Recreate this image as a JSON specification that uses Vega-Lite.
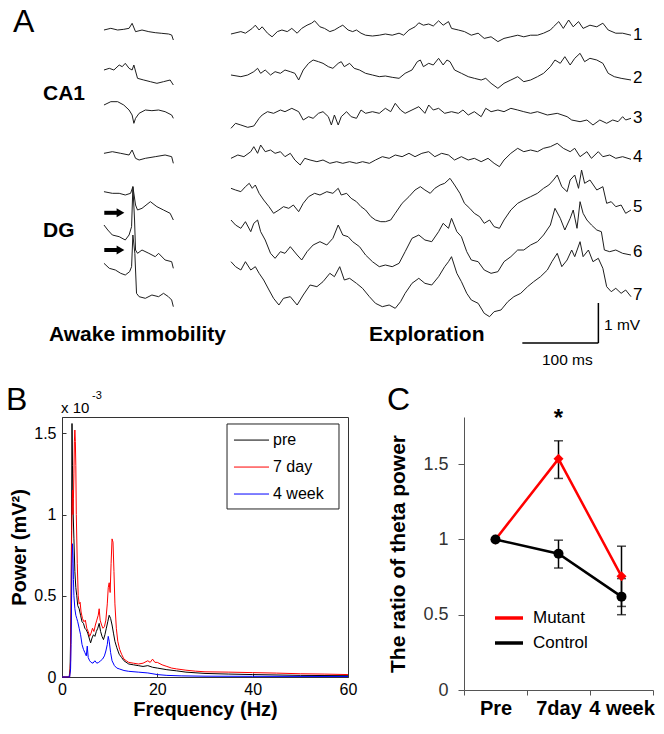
{
"$schema": "https://vega.github.io/schema/vega-lite/v6.json",
"padding": {"left": 5, "top": 0, "right": 0, "bottom": 0},
"config": {"font": "Liberation Sans", "view": {"stroke": null}},
"datasets": {
"traces": [
{"id":"e1","t":0,"v":0.85},{"id":"e1","t":13,"v":0.79},{"id":"e1","t":19,"v":0.83},{"id":"e1","t":28,"v":0.71},{"id":"e1","t":32,"v":0.63},{"id":"e1","t":37,"v":0.75},{"id":"e1","t":41,"v":0.67},{"id":"e1","t":48,"v":0.83},{"id":"e1","t":54,"v":0.92},{"id":"e1","t":61,"v":0.79},{"id":"e1","t":67,"v":0.75},{"id":"e1","t":74,"v":0.79},{"id":"e1","t":80,"v":0.71},{"id":"e1","t":87,"v":0.83},{"id":"e1","t":93,"v":0.71},{"id":"e1","t":100,"v":0.63},{"id":"e1","t":106,"v":0.58},{"id":"e1","t":110,"v":0.52},{"id":"e1","t":117,"v":0.67},{"id":"e1","t":123,"v":0.71},{"id":"e1","t":130,"v":0.79},{"id":"e1","t":136,"v":0.75},{"id":"e1","t":143,"v":0.67},{"id":"e1","t":147,"v":0.63},{"id":"e1","t":154,"v":0.75},{"id":"e1","t":160,"v":0.79},{"id":"e1","t":165,"v":0.75},{"id":"e1","t":171,"v":0.83},{"id":"e1","t":177,"v":0.88},{"id":"e1","t":186,"v":0.9},{"id":"e1","t":195,"v":0.88},{"id":"e1","t":203,"v":0.85},{"id":"e1","t":212,"v":0.88},{"id":"e1","t":221,"v":0.83},{"id":"e1","t":227,"v":0.88},{"id":"e1","t":234,"v":0.75},{"id":"e1","t":242,"v":0.67},{"id":"e1","t":247,"v":0.57},{"id":"e1","t":253,"v":0.63},{"id":"e1","t":260,"v":0.6},{"id":"e1","t":266,"v":0.65},{"id":"e1","t":273,"v":0.52},{"id":"e1","t":279,"v":0.63},{"id":"e1","t":286,"v":0.54},{"id":"e1","t":290,"v":0.71},{"id":"e1","t":299,"v":0.75},{"id":"e1","t":307,"v":0.79},{"id":"e1","t":316,"v":0.88},{"id":"e1","t":325,"v":0.83},{"id":"e1","t":333,"v":0.96},{"id":"e1","t":342,"v":0.92},{"id":"e1","t":351,"v":1.04},{"id":"e1","t":359,"v":0.96},{"id":"e1","t":368,"v":0.92},{"id":"e1","t":377,"v":0.88},{"id":"e1","t":385,"v":0.92},{"id":"e1","t":394,"v":0.88},{"id":"e1","t":403,"v":0.88},{"id":"e1","t":411,"v":0.83},{"id":"e1","t":420,"v":0.75},{"id":"e1","t":424,"v":0.67},{"id":"e1","t":431,"v":0.54},{"id":"e1","t":437,"v":0.71},{"id":"e1","t":444,"v":0.5},{"id":"e1","t":450,"v":0.67},{"id":"e1","t":457,"v":0.54},{"id":"e1","t":463,"v":0.71},{"id":"e1","t":472,"v":0.63},{"id":"e1","t":481,"v":0.67},{"id":"e1","t":489,"v":0.58},{"id":"e1","t":496,"v":0.75},{"id":"e1","t":506,"v":0.83},{"id":"e1","t":515,"v":0.83},{"id":"e1","t":526,"v":0.88},
{"id":"e2","t":0,"v":1.875},{"id":"e2","t":13,"v":1.917},{"id":"e2","t":22,"v":1.875},{"id":"e2","t":30,"v":1.792},{"id":"e2","t":35,"v":1.708},{"id":"e2","t":39,"v":1.833},{"id":"e2","t":45,"v":1.75},{"id":"e2","t":52,"v":1.875},{"id":"e2","t":58,"v":1.792},{"id":"e2","t":65,"v":1.833},{"id":"e2","t":71,"v":1.75},{"id":"e2","t":78,"v":1.792},{"id":"e2","t":84,"v":1.833},{"id":"e2","t":89,"v":2.0},{"id":"e2","t":95,"v":1.75},{"id":"e2","t":102,"v":1.583},{"id":"e2","t":108,"v":1.5},{"id":"e2","t":115,"v":1.542},{"id":"e2","t":121,"v":1.583},{"id":"e2","t":128,"v":1.667},{"id":"e2","t":134,"v":1.708},{"id":"e2","t":141,"v":1.583},{"id":"e2","t":145,"v":1.542},{"id":"e2","t":149,"v":1.667},{"id":"e2","t":156,"v":1.583},{"id":"e2","t":162,"v":1.708},{"id":"e2","t":169,"v":1.75},{"id":"e2","t":177,"v":1.833},{"id":"e2","t":186,"v":1.875},{"id":"e2","t":195,"v":1.917},{"id":"e2","t":203,"v":1.9},{"id":"e2","t":212,"v":1.933},{"id":"e2","t":221,"v":1.958},{"id":"e2","t":229,"v":1.833},{"id":"e2","t":238,"v":1.75},{"id":"e2","t":245,"v":1.542},{"id":"e2","t":249,"v":1.5},{"id":"e2","t":253,"v":1.667},{"id":"e2","t":260,"v":1.583},{"id":"e2","t":266,"v":1.625},{"id":"e2","t":273,"v":1.458},{"id":"e2","t":279,"v":1.625},{"id":"e2","t":284,"v":1.5},{"id":"e2","t":288,"v":1.542},{"id":"e2","t":294,"v":1.75},{"id":"e2","t":303,"v":1.833},{"id":"e2","t":312,"v":1.917},{"id":"e2","t":320,"v":1.958},{"id":"e2","t":329,"v":2.0},{"id":"e2","t":335,"v":1.958},{"id":"e2","t":342,"v":2.083},{"id":"e2","t":351,"v":2.208},{"id":"e2","t":359,"v":2.083},{"id":"e2","t":368,"v":2.0},{"id":"e2","t":377,"v":1.917},{"id":"e2","t":385,"v":2.042},{"id":"e2","t":394,"v":2.0},{"id":"e2","t":403,"v":1.917},{"id":"e2","t":411,"v":1.833},{"id":"e2","t":420,"v":1.667},{"id":"e2","t":426,"v":1.5},{"id":"e2","t":433,"v":1.583},{"id":"e2","t":439,"v":1.417},{"id":"e2","t":446,"v":1.625},{"id":"e2","t":452,"v":1.458},{"id":"e2","t":459,"v":1.333},{"id":"e2","t":465,"v":1.542},{"id":"e2","t":472,"v":1.458},{"id":"e2","t":481,"v":1.5},{"id":"e2","t":489,"v":1.583},{"id":"e2","t":496,"v":1.833},{"id":"e2","t":504,"v":1.917},{"id":"e2","t":513,"v":1.958},{"id":"e2","t":526,"v":2.0},
{"id":"e3","t":0,"v":3.208},{"id":"e3","t":6,"v":3.083},{"id":"e3","t":13,"v":3.125},{"id":"e3","t":22,"v":3.183},{"id":"e3","t":30,"v":3.15},{"id":"e3","t":37,"v":2.958},{"id":"e3","t":41,"v":2.875},{"id":"e3","t":48,"v":2.792},{"id":"e3","t":56,"v":2.833},{"id":"e3","t":65,"v":2.75},{"id":"e3","t":71,"v":2.792},{"id":"e3","t":80,"v":2.708},{"id":"e3","t":89,"v":2.792},{"id":"e3","t":95,"v":3.0},{"id":"e3","t":102,"v":2.917},{"id":"e3","t":108,"v":2.958},{"id":"e3","t":115,"v":2.833},{"id":"e3","t":121,"v":2.792},{"id":"e3","t":128,"v":2.917},{"id":"e3","t":132,"v":3.125},{"id":"e3","t":136,"v":2.875},{"id":"e3","t":141,"v":3.125},{"id":"e3","t":145,"v":2.917},{"id":"e3","t":152,"v":2.792},{"id":"e3","t":158,"v":2.917},{"id":"e3","t":165,"v":2.958},{"id":"e3","t":171,"v":2.75},{"id":"e3","t":177,"v":2.833},{"id":"e3","t":186,"v":2.792},{"id":"e3","t":195,"v":2.833},{"id":"e3","t":203,"v":2.708},{"id":"e3","t":210,"v":2.792},{"id":"e3","t":216,"v":2.583},{"id":"e3","t":223,"v":2.75},{"id":"e3","t":229,"v":2.833},{"id":"e3","t":238,"v":2.75},{"id":"e3","t":247,"v":2.667},{"id":"e3","t":255,"v":2.833},{"id":"e3","t":260,"v":2.625},{"id":"e3","t":266,"v":2.75},{"id":"e3","t":273,"v":2.708},{"id":"e3","t":281,"v":2.833},{"id":"e3","t":290,"v":2.792},{"id":"e3","t":299,"v":2.833},{"id":"e3","t":305,"v":2.75},{"id":"e3","t":312,"v":2.875},{"id":"e3","t":320,"v":2.792},{"id":"e3","t":329,"v":2.917},{"id":"e3","t":335,"v":2.708},{"id":"e3","t":342,"v":2.792},{"id":"e3","t":351,"v":2.75},{"id":"e3","t":359,"v":2.792},{"id":"e3","t":368,"v":2.708},{"id":"e3","t":377,"v":2.75},{"id":"e3","t":385,"v":2.792},{"id":"e3","t":394,"v":2.833},{"id":"e3","t":403,"v":2.792},{"id":"e3","t":416,"v":2.875},{"id":"e3","t":429,"v":2.833},{"id":"e3","t":442,"v":2.917},{"id":"e3","t":448,"v":3.0},{"id":"e3","t":459,"v":3.042},{"id":"e3","t":468,"v":3.0},{"id":"e3","t":476,"v":3.125},{"id":"e3","t":485,"v":3.0},{"id":"e3","t":494,"v":3.083},{"id":"e3","t":502,"v":3.0},{"id":"e3","t":509,"v":3.042},{"id":"e3","t":515,"v":2.917},{"id":"e3","t":519,"v":3.0},{"id":"e3","t":526,"v":2.958},
{"id":"e4","t":0,"v":3.958},{"id":"e4","t":9,"v":3.875},{"id":"e4","t":17,"v":3.917},{"id":"e4","t":26,"v":3.792},{"id":"e4","t":30,"v":3.667},{"id":"e4","t":35,"v":3.833},{"id":"e4","t":39,"v":3.625},{"id":"e4","t":45,"v":3.792},{"id":"e4","t":52,"v":3.75},{"id":"e4","t":58,"v":3.833},{"id":"e4","t":65,"v":3.792},{"id":"e4","t":71,"v":3.917},{"id":"e4","t":78,"v":3.833},{"id":"e4","t":84,"v":4.0},{"id":"e4","t":91,"v":4.125},{"id":"e4","t":97,"v":3.958},{"id":"e4","t":104,"v":4.0},{"id":"e4","t":113,"v":4.042},{"id":"e4","t":121,"v":4.0},{"id":"e4","t":130,"v":4.083},{"id":"e4","t":139,"v":4.042},{"id":"e4","t":147,"v":4.083},{"id":"e4","t":156,"v":4.042},{"id":"e4","t":165,"v":4.083},{"id":"e4","t":173,"v":4.042},{"id":"e4","t":182,"v":4.083},{"id":"e4","t":190,"v":4.0},{"id":"e4","t":199,"v":3.917},{"id":"e4","t":208,"v":3.958},{"id":"e4","t":216,"v":3.875},{"id":"e4","t":225,"v":3.917},{"id":"e4","t":234,"v":3.833},{"id":"e4","t":242,"v":3.917},{"id":"e4","t":251,"v":3.833},{"id":"e4","t":260,"v":3.792},{"id":"e4","t":268,"v":3.917},{"id":"e4","t":277,"v":3.833},{"id":"e4","t":286,"v":3.875},{"id":"e4","t":294,"v":4.0},{"id":"e4","t":303,"v":3.917},{"id":"e4","t":312,"v":4.0},{"id":"e4","t":320,"v":3.958},{"id":"e4","t":329,"v":4.042},{"id":"e4","t":338,"v":3.958},{"id":"e4","t":346,"v":4.083},{"id":"e4","t":353,"v":4.167},{"id":"e4","t":359,"v":4.0},{"id":"e4","t":368,"v":3.833},{"id":"e4","t":377,"v":3.708},{"id":"e4","t":385,"v":3.792},{"id":"e4","t":394,"v":3.75},{"id":"e4","t":403,"v":3.792},{"id":"e4","t":411,"v":3.708},{"id":"e4","t":420,"v":3.667},{"id":"e4","t":429,"v":3.583},{"id":"e4","t":437,"v":3.708},{"id":"e4","t":446,"v":3.792},{"id":"e4","t":452,"v":3.708},{"id":"e4","t":459,"v":3.917},{"id":"e4","t":468,"v":3.792},{"id":"e4","t":474,"v":3.958},{"id":"e4","t":483,"v":3.792},{"id":"e4","t":489,"v":3.917},{"id":"e4","t":498,"v":3.875},{"id":"e4","t":506,"v":3.958},{"id":"e4","t":515,"v":3.917},{"id":"e4","t":526,"v":3.983},
{"id":"e5","t":0,"v":4.708},{"id":"e5","t":6,"v":4.75},{"id":"e5","t":13,"v":4.792},{"id":"e5","t":19,"v":4.667},{"id":"e5","t":24,"v":4.583},{"id":"e5","t":28,"v":4.708},{"id":"e5","t":32,"v":4.625},{"id":"e5","t":37,"v":4.833},{"id":"e5","t":43,"v":5.0},{"id":"e5","t":50,"v":5.167},{"id":"e5","t":56,"v":5.333},{"id":"e5","t":63,"v":5.25},{"id":"e5","t":69,"v":5.167},{"id":"e5","t":76,"v":5.208},{"id":"e5","t":82,"v":5.125},{"id":"e5","t":89,"v":5.292},{"id":"e5","t":95,"v":5.083},{"id":"e5","t":102,"v":4.917},{"id":"e5","t":110,"v":4.833},{"id":"e5","t":117,"v":4.875},{"id":"e5","t":126,"v":4.792},{"id":"e5","t":134,"v":4.833},{"id":"e5","t":141,"v":4.708},{"id":"e5","t":145,"v":4.875},{"id":"e5","t":152,"v":4.833},{"id":"e5","t":158,"v":4.958},{"id":"e5","t":165,"v":5.042},{"id":"e5","t":171,"v":5.167},{"id":"e5","t":177,"v":5.25},{"id":"e5","t":184,"v":5.417},{"id":"e5","t":190,"v":5.5},{"id":"e5","t":197,"v":5.542},{"id":"e5","t":203,"v":5.542},{"id":"e5","t":210,"v":5.5},{"id":"e5","t":216,"v":5.333},{"id":"e5","t":225,"v":5.083},{"id":"e5","t":234,"v":4.917},{"id":"e5","t":242,"v":4.75},{"id":"e5","t":249,"v":4.667},{"id":"e5","t":255,"v":4.75},{"id":"e5","t":262,"v":4.833},{"id":"e5","t":268,"v":4.708},{"id":"e5","t":275,"v":4.625},{"id":"e5","t":281,"v":4.583},{"id":"e5","t":288,"v":4.458},{"id":"e5","t":294,"v":4.625},{"id":"e5","t":301,"v":4.833},{"id":"e5","t":307,"v":5.083},{"id":"e5","t":314,"v":5.208},{"id":"e5","t":320,"v":5.333},{"id":"e5","t":327,"v":5.417},{"id":"e5","t":333,"v":5.583},{"id":"e5","t":340,"v":5.5},{"id":"e5","t":346,"v":5.667},{"id":"e5","t":353,"v":5.708},{"id":"e5","t":359,"v":5.5},{"id":"e5","t":368,"v":5.25},{"id":"e5","t":377,"v":5.083},{"id":"e5","t":385,"v":5.0},{"id":"e5","t":394,"v":4.917},{"id":"e5","t":403,"v":4.833},{"id":"e5","t":411,"v":4.708},{"id":"e5","t":418,"v":4.625},{"id":"e5","t":424,"v":4.5},{"id":"e5","t":429,"v":4.375},{"id":"e5","t":435,"v":4.667},{"id":"e5","t":442,"v":4.792},{"id":"e5","t":446,"v":4.5},{"id":"e5","t":452,"v":4.375},{"id":"e5","t":457,"v":4.708},{"id":"e5","t":461,"v":4.25},{"id":"e5","t":465,"v":4.583},{"id":"e5","t":472,"v":4.5},{"id":"e5","t":481,"v":4.75},{"id":"e5","t":489,"v":4.667},{"id":"e5","t":494,"v":5.083},{"id":"e5","t":500,"v":5.042},{"id":"e5","t":506,"v":5.167},{"id":"e5","t":513,"v":5.125},{"id":"e5","t":519,"v":5.333},{"id":"e5","t":526,"v":5.25},
{"id":"e6","t":0,"v":5.5},{"id":"e6","t":6,"v":5.625},{"id":"e6","t":13,"v":5.708},{"id":"e6","t":19,"v":5.542},{"id":"e6","t":26,"v":5.792},{"id":"e6","t":30,"v":5.583},{"id":"e6","t":35,"v":5.5},{"id":"e6","t":39,"v":5.792},{"id":"e6","t":45,"v":6.0},{"id":"e6","t":52,"v":6.333},{"id":"e6","t":58,"v":6.458},{"id":"e6","t":65,"v":6.292},{"id":"e6","t":71,"v":6.333},{"id":"e6","t":78,"v":6.167},{"id":"e6","t":87,"v":6.375},{"id":"e6","t":93,"v":6.5},{"id":"e6","t":100,"v":6.292},{"id":"e6","t":108,"v":6.125},{"id":"e6","t":117,"v":6.042},{"id":"e6","t":126,"v":6.125},{"id":"e6","t":134,"v":5.958},{"id":"e6","t":141,"v":5.625},{"id":"e6","t":147,"v":5.875},{"id":"e6","t":154,"v":5.917},{"id":"e6","t":160,"v":6.042},{"id":"e6","t":169,"v":6.167},{"id":"e6","t":177,"v":6.375},{"id":"e6","t":186,"v":6.542},{"id":"e6","t":195,"v":6.667},{"id":"e6","t":203,"v":6.625},{"id":"e6","t":212,"v":6.667},{"id":"e6","t":221,"v":6.583},{"id":"e6","t":229,"v":6.292},{"id":"e6","t":238,"v":5.958},{"id":"e6","t":247,"v":5.875},{"id":"e6","t":255,"v":6.0},{"id":"e6","t":264,"v":6.042},{"id":"e6","t":273,"v":5.792},{"id":"e6","t":279,"v":5.583},{"id":"e6","t":286,"v":5.708},{"id":"e6","t":290,"v":5.458},{"id":"e6","t":297,"v":5.792},{"id":"e6","t":303,"v":5.917},{"id":"e6","t":310,"v":6.292},{"id":"e6","t":316,"v":6.5},{"id":"e6","t":325,"v":6.542},{"id":"e6","t":333,"v":6.75},{"id":"e6","t":342,"v":6.833},{"id":"e6","t":351,"v":6.792},{"id":"e6","t":359,"v":6.542},{"id":"e6","t":368,"v":6.417},{"id":"e6","t":377,"v":6.25},{"id":"e6","t":385,"v":6.25},{"id":"e6","t":394,"v":6.125},{"id":"e6","t":403,"v":6.042},{"id":"e6","t":411,"v":5.875},{"id":"e6","t":420,"v":5.625},{"id":"e6","t":426,"v":5.208},{"id":"e6","t":433,"v":5.458},{"id":"e6","t":439,"v":5.75},{"id":"e6","t":446,"v":5.458},{"id":"e6","t":450,"v":5.25},{"id":"e6","t":455,"v":5.708},{"id":"e6","t":459,"v":5.042},{"id":"e6","t":463,"v":5.333},{"id":"e6","t":468,"v":5.5},{"id":"e6","t":474,"v":5.625},{"id":"e6","t":481,"v":5.75},{"id":"e6","t":487,"v":5.792},{"id":"e6","t":491,"v":6.25},{"id":"e6","t":498,"v":6.292},{"id":"e6","t":506,"v":6.25},{"id":"e6","t":515,"v":6.333},{"id":"e6","t":526,"v":6.375},
{"id":"e7","t":0,"v":6.542},{"id":"e7","t":6,"v":6.667},{"id":"e7","t":13,"v":6.75},{"id":"e7","t":19,"v":6.542},{"id":"e7","t":26,"v":6.75},{"id":"e7","t":32,"v":6.667},{"id":"e7","t":37,"v":6.833},{"id":"e7","t":43,"v":7.0},{"id":"e7","t":50,"v":7.25},{"id":"e7","t":56,"v":7.458},{"id":"e7","t":63,"v":7.625},{"id":"e7","t":69,"v":7.458},{"id":"e7","t":78,"v":7.417},{"id":"e7","t":87,"v":7.625},{"id":"e7","t":95,"v":7.375},{"id":"e7","t":104,"v":7.125},{"id":"e7","t":113,"v":7.167},{"id":"e7","t":121,"v":7.042},{"id":"e7","t":130,"v":6.833},{"id":"e7","t":136,"v":6.917},{"id":"e7","t":143,"v":6.667},{"id":"e7","t":149,"v":7.0},{"id":"e7","t":156,"v":6.958},{"id":"e7","t":165,"v":7.083},{"id":"e7","t":173,"v":7.208},{"id":"e7","t":182,"v":7.417},{"id":"e7","t":190,"v":7.583},{"id":"e7","t":199,"v":7.667},{"id":"e7","t":208,"v":7.625},{"id":"e7","t":216,"v":7.708},{"id":"e7","t":223,"v":7.542},{"id":"e7","t":229,"v":7.333},{"id":"e7","t":238,"v":7.083},{"id":"e7","t":247,"v":6.958},{"id":"e7","t":255,"v":7.083},{"id":"e7","t":264,"v":7.125},{"id":"e7","t":273,"v":6.917},{"id":"e7","t":281,"v":6.667},{"id":"e7","t":286,"v":6.542},{"id":"e7","t":290,"v":6.417},{"id":"e7","t":297,"v":6.833},{"id":"e7","t":303,"v":7.042},{"id":"e7","t":310,"v":7.333},{"id":"e7","t":316,"v":7.5},{"id":"e7","t":325,"v":7.583},{"id":"e7","t":333,"v":7.833},{"id":"e7","t":340,"v":7.917},{"id":"e7","t":346,"v":7.792},{"id":"e7","t":355,"v":7.75},{"id":"e7","t":364,"v":7.542},{"id":"e7","t":372,"v":7.417},{"id":"e7","t":381,"v":7.333},{"id":"e7","t":390,"v":7.167},{"id":"e7","t":398,"v":7.042},{"id":"e7","t":407,"v":6.917},{"id":"e7","t":416,"v":6.75},{"id":"e7","t":422,"v":6.542},{"id":"e7","t":429,"v":6.333},{"id":"e7","t":435,"v":6.667},{"id":"e7","t":442,"v":6.5},{"id":"e7","t":448,"v":6.25},{"id":"e7","t":452,"v":6.417},{"id":"e7","t":459,"v":6.042},{"id":"e7","t":463,"v":6.417},{"id":"e7","t":470,"v":6.25},{"id":"e7","t":476,"v":6.542},{"id":"e7","t":483,"v":6.458},{"id":"e7","t":489,"v":6.708},{"id":"e7","t":494,"v":7.167},{"id":"e7","t":500,"v":7.292},{"id":"e7","t":506,"v":7.208},{"id":"e7","t":513,"v":7.333},{"id":"e7","t":519,"v":7.25},{"id":"e7","t":526,"v":7.417},
{"id":"a1","t":-167,"v":0.75},{"id":"a1","t":-158,"v":0.708},{"id":"a1","t":-149,"v":0.75},{"id":"a1","t":-141,"v":0.733},{"id":"a1","t":-134,"v":0.708},{"id":"a1","t":-130,"v":0.583},{"id":"a1","t":-125.5,"v":0.792},{"id":"a1","t":-117,"v":0.75},{"id":"a1","t":-108,"v":0.792},{"id":"a1","t":-99.6,"v":0.817},{"id":"a1","t":-91,"v":0.833},{"id":"a1","t":-82,"v":0.85},{"id":"a1","t":-78,"v":0.875},{"id":"a1","t":-75.8,"v":1.0},
{"id":"a2","t":-167,"v":1.75},{"id":"a2","t":-160,"v":1.708},{"id":"a2","t":-154,"v":1.75},{"id":"a2","t":-147,"v":1.625},{"id":"a2","t":-143,"v":1.667},{"id":"a2","t":-139,"v":1.583},{"id":"a2","t":-134,"v":1.708},{"id":"a2","t":-130,"v":1.75},{"id":"a2","t":-127.7,"v":1.625},{"id":"a2","t":-122.9,"v":1.958},{"id":"a2","t":-114.7,"v":2.0},{"id":"a2","t":-106,"v":2.042},{"id":"a2","t":-97.4,"v":2.083},{"id":"a2","t":-88.7,"v":2.042},{"id":"a2","t":-80,"v":2.0},{"id":"a2","t":-75.8,"v":2.125},
{"id":"a3","t":-167,"v":2.625},{"id":"a3","t":-158,"v":2.542},{"id":"a3","t":-149,"v":2.542},{"id":"a3","t":-141,"v":2.625},{"id":"a3","t":-134,"v":2.75},{"id":"a3","t":-130,"v":2.875},{"id":"a3","t":-127.7,"v":3.083},{"id":"a3","t":-125.5,"v":2.958},{"id":"a3","t":-120.8,"v":2.833},{"id":"a3","t":-112.6,"v":2.75},{"id":"a3","t":-104,"v":2.767},{"id":"a3","t":-95.2,"v":2.75},{"id":"a3","t":-86.6,"v":2.792},{"id":"a3","t":-78,"v":2.875},{"id":"a3","t":-75.8,"v":2.958},
{"id":"a4","t":-167,"v":3.833},{"id":"a4","t":-156,"v":3.792},{"id":"a4","t":-145,"v":3.833},{"id":"a4","t":-134,"v":3.875},{"id":"a4","t":-130,"v":3.75},{"id":"a4","t":-125.5,"v":3.958},{"id":"a4","t":-120.8,"v":4.0},{"id":"a4","t":-112.6,"v":3.958},{"id":"a4","t":-99.6,"v":3.917},{"id":"a4","t":-86.6,"v":3.875},{"id":"a4","t":-78,"v":3.917},{"id":"a4","t":-75.8,"v":4.083},
{"id":"a5","t":-167,"v":4.792},{"id":"a5","t":-156,"v":4.833},{"id":"a5","t":-147,"v":4.833},{"id":"a5","t":-139,"v":4.875},{"id":"a5","t":-132,"v":4.833},{"id":"a5","t":-129,"v":4.667},{"id":"a5","t":-125.5,"v":5.125},{"id":"a5","t":-122.9,"v":5.25},{"id":"a5","t":-117,"v":5.208},{"id":"a5","t":-106,"v":5.042},{"id":"a5","t":-97.4,"v":5.167},{"id":"a5","t":-88.7,"v":5.25},{"id":"a5","t":-80,"v":5.333},{"id":"a5","t":-75.8,"v":5.5},
{"id":"a6","t":-167,"v":5.625},{"id":"a6","t":-162,"v":5.75},{"id":"a6","t":-156,"v":5.875},{"id":"a6","t":-147,"v":5.917},{"id":"a6","t":-139,"v":6.0},{"id":"a6","t":-134,"v":5.875},{"id":"a6","t":-130.7,"v":5.667},{"id":"a6","t":-129,"v":4.667},{"id":"a6","t":-126.8,"v":5.5},{"id":"a6","t":-125.5,"v":6.25},{"id":"a6","t":-122.9,"v":6.333},{"id":"a6","t":-117,"v":6.25},{"id":"a6","t":-108,"v":6.333},{"id":"a6","t":-99.6,"v":6.417},{"id":"a6","t":-95.2,"v":6.333},{"id":"a6","t":-86.6,"v":6.5},{"id":"a6","t":-78,"v":6.542},{"id":"a6","t":-75.8,"v":6.708},
{"id":"a7","t":-167,"v":6.583},{"id":"a7","t":-160,"v":6.708},{"id":"a7","t":-152,"v":6.75},{"id":"a7","t":-145,"v":6.833},{"id":"a7","t":-139,"v":6.875},{"id":"a7","t":-133.3,"v":6.792},{"id":"a7","t":-130.7,"v":6.667},{"id":"a7","t":-129,"v":5.875},{"id":"a7","t":-126.4,"v":6.333},{"id":"a7","t":-124.2,"v":7.333},{"id":"a7","t":-120.8,"v":7.417},{"id":"a7","t":-112.6,"v":7.458},{"id":"a7","t":-104,"v":7.375},{"id":"a7","t":-95.2,"v":7.417},{"id":"a7","t":-88.7,"v":7.333},{"id":"a7","t":-82.3,"v":7.417},{"id":"a7","t":-78,"v":7.5},{"id":"a7","t":-75.8,"v":7.667}
],
"bars": [{"t":483.1,"t2":483.1,"v":7.575,"v2":8.575},{"t":383.1,"t2":483.1,"v":8.575,"v2":8.575}],
"arrows": [{"t":-166.6,"t2":-148.6,"v":5.32},{"t":-166.6,"t2":-148.6,"v":6.25}],
"heads": [{"t":-145.3,"v":5.32},{"t":-145.3,"v":6.25}],
"letters": [{"lab":"A","t":-286.7,"v":0.8},{"lab":"B","t":-295.9,"v":10.25},{"lab":"C","t":205.1,"v":10.25}],
"regions": [{"lab":"CA1","t":-247.2,"v":2.5},{"lab":"DG","t":-247.2,"v":5.93},{"lab":"Awake immobility","t":-239.3,"v":8.53},{"lab":"Exploration","t":181.5,"v":8.53}],
"nums": [{"lab":"1","t":535,"v":0.875},{"lab":"2","t":535,"v":1.95},{"lab":"3","t":535,"v":2.95},{"lab":"4","t":535,"v":3.925},{"lab":"5","t":535,"v":5.175},{"lab":"6","t":535,"v":6.3},{"lab":"7","t":535,"v":7.375}],
"scalelabs": [{"lab":"1 mV","t":490.5,"v":8.13},{"lab":"100 ms","t":408.9,"v":9.0}],
"spec": [
{"s":"pre","f":0,"p":0},{"s":"pre","f":1.5,"p":0},{"s":"pre","f":1.7,"p":0.05},{"s":"pre","f":1.9,"p":0.4},{"s":"pre","f":2.0,"p":0.9},{"s":"pre","f":2.1,"p":1.56},{"s":"pre","f":2.2,"p":1.3},{"s":"pre","f":2.3,"p":1.05},{"s":"pre","f":2.5,"p":0.85},{"s":"pre","f":2.7,"p":0.65},{"s":"pre","f":2.9,"p":0.55},{"s":"pre","f":3.1,"p":0.5},{"s":"pre","f":3.3,"p":0.44},{"s":"pre","f":3.6,"p":0.42},{"s":"pre","f":3.9,"p":0.38},{"s":"pre","f":4.2,"p":0.34},{"s":"pre","f":4.5,"p":0.33},{"s":"pre","f":4.8,"p":0.3},{"s":"pre","f":5.1,"p":0.29},{"s":"pre","f":5.4,"p":0.27},{"s":"pre","f":5.7,"p":0.24},{"s":"pre","f":6.0,"p":0.21},{"s":"pre","f":6.3,"p":0.24},{"s":"pre","f":6.6,"p":0.26},{"s":"pre","f":6.9,"p":0.25},{"s":"pre","f":7.2,"p":0.28},{"s":"pre","f":7.5,"p":0.3},{"s":"pre","f":7.8,"p":0.33},{"s":"pre","f":8.1,"p":0.28},{"s":"pre","f":8.4,"p":0.25},{"s":"pre","f":8.7,"p":0.23},{"s":"pre","f":9.0,"p":0.26},{"s":"pre","f":9.3,"p":0.3},{"s":"pre","f":9.6,"p":0.34},{"s":"pre","f":9.9,"p":0.38},{"s":"pre","f":10.2,"p":0.36},{"s":"pre","f":10.5,"p":0.32},{"s":"pre","f":10.8,"p":0.27},{"s":"pre","f":11.1,"p":0.22},{"s":"pre","f":11.5,"p":0.18},{"s":"pre","f":12,"p":0.14},{"s":"pre","f":12.5,"p":0.12},{"s":"pre","f":13,"p":0.1},{"s":"pre","f":14,"p":0.08},{"s":"pre","f":15,"p":0.075},{"s":"pre","f":16,"p":0.07},{"s":"pre","f":17,"p":0.065},{"s":"pre","f":18,"p":0.07},{"s":"pre","f":19,"p":0.06},{"s":"pre","f":20,"p":0.055},{"s":"pre","f":22,"p":0.045},{"s":"pre","f":24,"p":0.038},{"s":"pre","f":26,"p":0.03},{"s":"pre","f":30,"p":0.022},{"s":"pre","f":35,"p":0.018},{"s":"pre","f":40,"p":0.015},{"s":"pre","f":50,"p":0.01},{"s":"pre","f":60,"p":0.008},
{"s":"7 day","f":0,"p":0},{"s":"7 day","f":1.6,"p":0},{"s":"7 day","f":1.8,"p":0.1},{"s":"7 day","f":1.9,"p":0.4},{"s":"7 day","f":2.0,"p":0.8},{"s":"7 day","f":2.1,"p":1.05},{"s":"7 day","f":2.2,"p":1.15},{"s":"7 day","f":2.3,"p":1.0},{"s":"7 day","f":2.4,"p":1.1},{"s":"7 day","f":2.5,"p":1.25},{"s":"7 day","f":2.6,"p":1.45},{"s":"7 day","f":2.7,"p":1.52},{"s":"7 day","f":2.8,"p":1.45},{"s":"7 day","f":2.9,"p":1.3},{"s":"7 day","f":3.0,"p":1.0},{"s":"7 day","f":3.2,"p":0.7},{"s":"7 day","f":3.4,"p":0.5},{"s":"7 day","f":3.6,"p":0.45},{"s":"7 day","f":3.8,"p":0.46},{"s":"7 day","f":4.0,"p":0.4},{"s":"7 day","f":4.3,"p":0.36},{"s":"7 day","f":4.6,"p":0.34},{"s":"7 day","f":4.9,"p":0.35},{"s":"7 day","f":5.2,"p":0.3},{"s":"7 day","f":5.5,"p":0.28},{"s":"7 day","f":5.8,"p":0.25},{"s":"7 day","f":6.1,"p":0.27},{"s":"7 day","f":6.4,"p":0.3},{"s":"7 day","f":6.7,"p":0.28},{"s":"7 day","f":7.0,"p":0.32},{"s":"7 day","f":7.3,"p":0.35},{"s":"7 day","f":7.6,"p":0.38},{"s":"7 day","f":7.8,"p":0.42},{"s":"7 day","f":8.0,"p":0.35},{"s":"7 day","f":8.3,"p":0.32},{"s":"7 day","f":8.6,"p":0.3},{"s":"7 day","f":8.9,"p":0.31},{"s":"7 day","f":9.2,"p":0.35},{"s":"7 day","f":9.5,"p":0.45},{"s":"7 day","f":9.7,"p":0.55},{"s":"7 day","f":9.9,"p":0.58},{"s":"7 day","f":10.1,"p":0.52},{"s":"7 day","f":10.3,"p":0.7},{"s":"7 day","f":10.5,"p":0.85},{"s":"7 day","f":10.7,"p":0.83},{"s":"7 day","f":10.9,"p":0.65},{"s":"7 day","f":11.1,"p":0.45},{"s":"7 day","f":11.4,"p":0.3},{"s":"7 day","f":11.7,"p":0.22},{"s":"7 day","f":12.1,"p":0.17},{"s":"7 day","f":12.5,"p":0.14},{"s":"7 day","f":13,"p":0.11},{"s":"7 day","f":13.5,"p":0.1},{"s":"7 day","f":14,"p":0.09},{"s":"7 day","f":15,"p":0.085},{"s":"7 day","f":16,"p":0.08},{"s":"7 day","f":17,"p":0.085},{"s":"7 day","f":18,"p":0.1},{"s":"7 day","f":18.5,"p":0.09},{"s":"7 day","f":19,"p":0.11},{"s":"7 day","f":19.5,"p":0.09},{"s":"7 day","f":20,"p":0.09},{"s":"7 day","f":21,"p":0.075},{"s":"7 day","f":22,"p":0.065},{"s":"7 day","f":23,"p":0.055},{"s":"7 day","f":24,"p":0.05},{"s":"7 day","f":26,"p":0.042},{"s":"7 day","f":28,"p":0.036},{"s":"7 day","f":30,"p":0.032},{"s":"7 day","f":35,"p":0.03},{"s":"7 day","f":40,"p":0.027},{"s":"7 day","f":45,"p":0.024},{"s":"7 day","f":50,"p":0.02},{"s":"7 day","f":55,"p":0.018},{"s":"7 day","f":60,"p":0.015},
{"s":"4 week","f":0,"p":0},{"s":"4 week","f":1.6,"p":0},{"s":"4 week","f":1.8,"p":0.05},{"s":"4 week","f":1.9,"p":0.2},{"s":"4 week","f":2.0,"p":0.45},{"s":"4 week","f":2.1,"p":0.7},{"s":"4 week","f":2.2,"p":0.82},{"s":"4 week","f":2.3,"p":0.75},{"s":"4 week","f":2.4,"p":0.6},{"s":"4 week","f":2.5,"p":0.5},{"s":"4 week","f":2.7,"p":0.42},{"s":"4 week","f":2.9,"p":0.38},{"s":"4 week","f":3.1,"p":0.36},{"s":"4 week","f":3.3,"p":0.34},{"s":"4 week","f":3.6,"p":0.3},{"s":"4 week","f":3.9,"p":0.26},{"s":"4 week","f":4.2,"p":0.2},{"s":"4 week","f":4.5,"p":0.17},{"s":"4 week","f":4.8,"p":0.15},{"s":"4 week","f":5.1,"p":0.13},{"s":"4 week","f":5.3,"p":0.19},{"s":"4 week","f":5.5,"p":0.12},{"s":"4 week","f":5.8,"p":0.1},{"s":"4 week","f":6.1,"p":0.09},{"s":"4 week","f":6.5,"p":0.085},{"s":"4 week","f":6.9,"p":0.1},{"s":"4 week","f":7.3,"p":0.085},{"s":"4 week","f":7.7,"p":0.09},{"s":"4 week","f":8.1,"p":0.1},{"s":"4 week","f":8.5,"p":0.11},{"s":"4 week","f":8.9,"p":0.13},{"s":"4 week","f":9.2,"p":0.16},{"s":"4 week","f":9.5,"p":0.2},{"s":"4 week","f":9.7,"p":0.25},{"s":"4 week","f":9.9,"p":0.22},{"s":"4 week","f":10.2,"p":0.15},{"s":"4 week","f":10.5,"p":0.1},{"s":"4 week","f":11,"p":0.07},{"s":"4 week","f":11.5,"p":0.055},{"s":"4 week","f":12,"p":0.05},{"s":"4 week","f":13,"p":0.04},{"s":"4 week","f":14,"p":0.035},{"s":"4 week","f":16,"p":0.03},{"s":"4 week","f":18,"p":0.025},{"s":"4 week","f":20,"p":0.015},{"s":"4 week","f":22,"p":0.01},{"s":"4 week","f":25,"p":0.007},{"s":"4 week","f":30,"p":0.005},{"s":"4 week","f":40,"p":0.004},{"s":"4 week","f":60,"p":0.003}
],
"legbox": [{"f":34.62,"f2":58.11,"p":1.557,"p2":1.034}],
"legrows": [{"s":"pre","f":36.08,"f2":43.43,"fl":44.27,"p":1.458},{"s":"7 day","f":36.08,"f2":43.43,"fl":44.27,"p":1.292},{"s":"4 week","f":36.08,"f2":43.43,"fl":44.27,"p":1.126}],
"ratio": [
{"g":"Mutant","tp":"Pre","m":1.0,"lo":1.0,"hi":1.0},{"g":"Mutant","tp":"7day","m":1.535,"lo":1.405,"hi":1.655},{"g":"Mutant","tp":"4 week","m":0.755,"lo":0.555,"hi":0.955},
{"g":"Control","tp":"Pre","m":1.0,"lo":1.0,"hi":1.0},{"g":"Control","tp":"7day","m":0.905,"lo":0.81,"hi":0.995},{"g":"Control","tp":"4 week","m":0.62,"lo":0.5,"hi":0.74}
]
},
"vconcat": [
{
"width": 603, "height": 380,
"view": {"stroke": null},
"encoding": {
"x": {"field": "t", "type": "quantitative", "scale": {"domain": [-222.2, 570.7], "nice": false, "zero": false}, "axis": null},
"y": {"field": "v", "type": "quantitative", "scale": {"domain": [0, 9.5], "reverse": true, "nice": false, "zero": false}, "axis": null}
},
"layer": [
{"data": {"name": "traces"}, "mark": {"type": "line", "color": "#1e1e1e", "strokeWidth": 1}, "encoding": {"detail": {"field": "id", "type": "nominal"}}},
{"data": {"name": "bars"}, "mark": {"type": "rule", "color": "#000", "strokeWidth": 1.5}, "encoding": {"x2": {"field": "t2"}, "y2": {"field": "v2"}}},
{"data": {"name": "arrows"}, "mark": {"type": "rule", "color": "#000", "strokeWidth": 4}, "encoding": {"x2": {"field": "t2"}}},
{"data": {"name": "heads"}, "mark": {"type": "point", "shape": "triangle-right", "filled": true, "color": "#000", "size": 80, "opacity": 1}, "encoding": {}},
{"data": {"name": "letters"}, "mark": {"type": "text", "fontSize": 32, "align": "left", "baseline": "alphabetic", "color": "#000"}, "encoding": {"text": {"field": "lab"}}},
{"data": {"name": "regions"}, "mark": {"type": "text", "fontSize": 21, "fontWeight": "bold", "align": "left", "baseline": "alphabetic", "color": "#000"}, "encoding": {"text": {"field": "lab"}}},
{"data": {"name": "nums"}, "mark": {"type": "text", "fontSize": 17, "align": "center", "baseline": "middle", "color": "#000"}, "encoding": {"text": {"field": "lab"}}},
{"data": {"name": "scalelabs"}, "mark": {"type": "text", "fontSize": 15.5, "align": "left", "baseline": "middle", "color": "#000"}, "encoding": {"text": {"field": "lab"}}}
]
},
{
"hconcat": [
{
"width": 286, "height": 260,
"view": {"stroke": "#333", "strokeWidth": 1},
"layer": [
{"data": {"name": "spec"}, "mark": {"type": "line", "strokeWidth": 1},
"encoding": {
"x": {"field": "f", "type": "quantitative", "scale": {"domain": [0, 60], "nice": false, "zero": false},
"axis": {"values": [0, 20, 40, 60], "title": "Frequency (Hz)", "titleFontSize": 20, "titleFontWeight": "bold", "titleColor": "#000", "labelFontSize": 16, "labelColor": "#000", "labelFlush": false, "tickSize": -4, "labelPadding": 8, "titlePadding": 2, "grid": false, "domainColor": "#333", "tickColor": "#333"}},
"y": {"field": "p", "type": "quantitative", "scale": {"domain": [0, 1.6], "nice": false, "zero": false},
"axis": {"values": [0, 0.5, 1, 1.5], "format": "~g", "title": "Power (mV²)", "titleFontSize": 20, "titleFontWeight": "bold", "titleColor": "#000", "labelFontSize": 16, "labelColor": "#000", "tickSize": -4, "labelPadding": 10, "titlePadding": 4, "grid": false, "domainColor": "#333", "tickColor": "#333"}},
"color": {"field": "s", "type": "nominal", "scale": {"domain": ["pre", "7 day", "4 week"], "range": ["#000000", "#ff0000", "#0000ff"]}, "legend": null}
}},
{"data": {"name": "legbox"}, "mark": {"type": "rect", "fill": "#ffffff", "stroke": "#222", "strokeWidth": 1},
"encoding": {"x": {"field": "f", "type": "quantitative"}, "x2": {"field": "f2"}, "y": {"field": "p", "type": "quantitative"}, "y2": {"field": "p2"}}},
{"data": {"name": "legrows"}, "mark": {"type": "rule", "strokeWidth": 1},
"encoding": {"x": {"field": "f", "type": "quantitative"}, "x2": {"field": "f2"}, "y": {"field": "p", "type": "quantitative"}, "color": {"field": "s", "type": "nominal", "legend": null}}},
{"data": {"name": "legrows"}, "mark": {"type": "text", "fontSize": 16, "align": "left", "baseline": "middle", "color": "#000"},
"encoding": {"x": {"field": "fl", "type": "quantitative"}, "y": {"field": "p", "type": "quantitative"}, "text": {"field": "s"}}},
{"data": {"values": [{"lab": "x 10", "f": -0.21, "p": 1.656}]}, "mark": {"type": "text", "fontSize": 15, "align": "left", "baseline": "middle", "color": "#000"},
"encoding": {"x": {"field": "f", "type": "quantitative"}, "y": {"field": "p", "type": "quantitative"}, "text": {"field": "lab"}}},
{"data": {"values": [{"lab": "-3", "f": 6.3, "p": 1.73}]}, "mark": {"type": "text", "fontSize": 11, "align": "left", "baseline": "middle", "color": "#000"},
"encoding": {"x": {"field": "f", "type": "quantitative"}, "y": {"field": "p", "type": "quantitative"}, "text": {"field": "lab"}}}
]
},
{
"width": 189, "height": 273,
"data": {"name": "ratio"},
"encoding": {
"x": {"field": "tp", "type": "nominal", "sort": ["Pre", "7day", "4 week"], "scale": {"type": "band", "paddingInner": 0, "paddingOuter": 0},
"axis": {"title": null, "labelAngle": 0, "labelFontSize": 20, "labelFontWeight": "bold", "labelColor": "#000", "tickBand": "extent", "tickSize": 5, "labelPadding": 3, "domainColor": "#555", "tickColor": "#555"}}
},
"layer": [
{"mark": {"type": "rule", "color": "#000", "strokeWidth": 1.5},
"encoding": {"y": {"field": "lo", "type": "quantitative", "scale": {"domain": [0, 1.813], "nice": false, "zero": false},
"axis": {"values": [0, 0.5, 1, 1.5], "format": "~g", "title": "The ratio of theta power", "titleFontSize": 21, "titleFontWeight": "bold", "titleColor": "#000", "labelFontSize": 18, "labelColor": "#333", "tickSize": 6, "labelPadding": 10, "titlePadding": 14, "grid": false, "domainColor": "#555", "tickColor": "#555"}},
"y2": {"field": "hi"}}},
{"mark": {"type": "tick", "size": 9, "thickness": 1.5, "color": "#000"}, "encoding": {"y": {"field": "lo", "type": "quantitative"}}},
{"mark": {"type": "tick", "size": 9, "thickness": 1.5, "color": "#000"}, "encoding": {"y": {"field": "hi", "type": "quantitative"}}},
{"mark": {"type": "line", "strokeWidth": 2.5},
"encoding": {"y": {"field": "m", "type": "quantitative"},
"color": {"field": "g", "type": "nominal", "scale": {"domain": ["Mutant", "Control"], "range": ["#ff0000", "#000000"]},
"legend": {"title": null, "orient": "none", "legendX": 29, "legendY": 185, "symbolType": "stroke", "symbolSize": 784, "symbolStrokeWidth": 3.5, "labelFontSize": 17, "labelColor": "#000", "labelOffset": 8, "rowPadding": 1}}}},
{"transform": [{"filter": "datum.g == 'Mutant'"}], "mark": {"type": "point", "shape": "diamond", "filled": true, "color": "#ff0000", "size": 100, "opacity": 1},
"encoding": {"y": {"field": "m", "type": "quantitative"}}},
{"transform": [{"filter": "datum.g == 'Control'"}], "mark": {"type": "point", "shape": "circle", "filled": true, "color": "#000000", "size": 100, "opacity": 1},
"encoding": {"y": {"field": "m", "type": "quantitative"}}},
{"data": {"values": [{"tp": "7day", "y": 1.753, "lab": "*"}]}, "mark": {"type": "text", "fontSize": 24, "fontWeight": "bold", "baseline": "alphabetic", "align": "center", "color": "#000"},
"encoding": {"y": {"field": "y", "type": "quantitative"}, "text": {"field": "lab"}}}
]
}
],
"spacing": 116,
"bounds": "flush",
"resolve": {"scale": {"color": "independent"}, "legend": {"color": "independent"}}
}
],
"spacing": 37,
"bounds": "flush"
}
